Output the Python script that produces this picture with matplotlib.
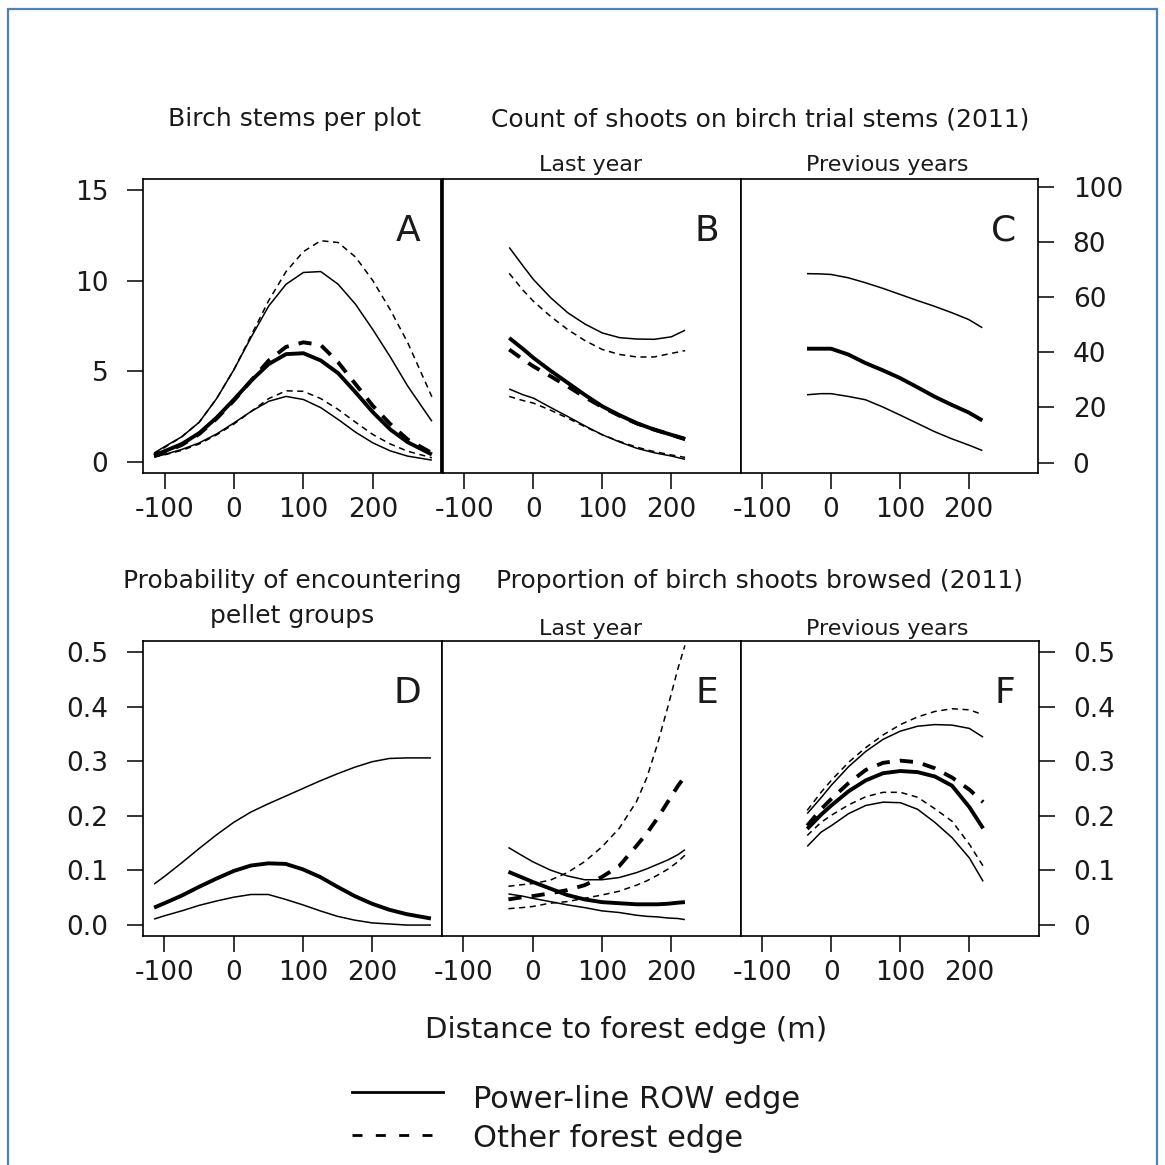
import matplotlib
matplotlib.use("Agg")
import matplotlib.pyplot as plt
from matplotlib.lines import Line2D
from matplotlib.patches import Rectangle

# ---- data ----
# panel A: birch stems per plot
a_x = [-115, -100, -75, -50, -25, 0, 25, 50, 75, 100, 125, 150, 175, 200, 225, 250, 285]
a_pow_hi = [0.5, 0.85, 1.4, 2.2, 3.5, 5.1, 6.9, 8.6, 9.8, 10.45, 10.5, 9.8, 8.7, 7.3, 5.8, 4.2, 2.25]
a_pow_mid = [0.37, 0.6, 1.0, 1.6, 2.45, 3.45, 4.5, 5.4, 5.95, 6.0, 5.6, 4.9, 3.85, 2.75, 1.8, 1.1, 0.42]
a_pow_lo = [0.29, 0.42, 0.7, 1.06, 1.55, 2.16, 2.8, 3.35, 3.62, 3.45, 3.0, 2.35, 1.65, 1.06, 0.62, 0.33, 0.11]
a_oth_hi = [0.45, 0.8, 1.4, 2.2, 3.5, 5.1, 7.0, 8.9, 10.5, 11.6, 12.2, 12.1, 11.3, 10.0, 8.4, 6.6, 3.6]
a_oth_mid = [0.33, 0.55, 0.95, 1.55, 2.4, 3.4, 4.5, 5.6, 6.35, 6.6, 6.45, 5.5, 4.3, 3.1, 2.1, 1.25, 0.5]
a_oth_lo = [0.28, 0.4, 0.65, 1.0, 1.5, 2.1, 2.8, 3.5, 3.93, 3.9, 3.5, 2.9, 2.2, 1.52, 1.0, 0.6, 0.24]

# panel B: shoots, last year
bc_x = [-35, -15, 0, 25, 50, 75, 100, 125, 150, 175, 200, 220]
b_pow_hi = [78, 71.3, 66.4, 59.8, 54.3, 50.2, 47.0, 45.3, 44.8, 44.7, 45.6, 48.0]
b_pow_mid = [45.2, 41.2, 38.0, 33.3, 28.9, 24.5, 20.4, 17.2, 14.3, 12.0, 10.1, 8.5]
b_pow_lo = [26.7, 24.6, 23.4, 20.0, 16.7, 13.3, 10.1, 7.5, 5.2, 3.6, 2.4, 1.2]
b_oth_hi = [68.6, 62.5, 58.5, 53.0, 48.2, 44.2, 41.0, 39.2, 38.3, 38.3, 39.6, 40.6]
b_oth_mid = [41.0, 37.4, 34.9, 31.3, 27.6, 23.7, 20.1, 17.0, 14.2, 12.0, 10.1, 8.6]
b_oth_lo = [24.0, 22.5, 21.6, 19.0, 16.1, 13.0, 10.1, 7.7, 5.6, 4.0, 2.8, 1.9]

# panel C: shoots, previous years
c_pow_hi = [68.5, 68.4, 68.2, 67.0, 65.2, 63.2, 61.0, 58.8, 56.7, 54.4, 51.9, 48.9]
c_pow_mid = [41.3, 41.3, 41.3, 39.2, 36.1, 33.5, 30.7, 27.4, 24.0, 21.0, 18.2, 15.3]
c_pow_lo = [24.6, 25.0, 25.0, 24.0, 22.8, 20.2, 17.3, 14.3, 11.3, 8.7, 6.4, 4.4]

# panel D: probability of pellet groups
d_x = [-115, -100, -75, -50, -25, 0, 25, 50, 75, 100, 125, 150, 175, 200, 225, 250, 285]
d_pow_hi = [0.075, 0.089, 0.114, 0.140, 0.165, 0.188, 0.207, 0.222, 0.236, 0.250, 0.264, 0.277,
            0.289, 0.299, 0.305, 0.306, 0.306]
d_pow_mid = [0.032, 0.040, 0.054, 0.070, 0.085, 0.099, 0.109, 0.113, 0.112, 0.102, 0.088, 0.070,
             0.053, 0.039, 0.028, 0.020, 0.012]
d_pow_lo = [0.011, 0.017, 0.026, 0.036, 0.044, 0.051, 0.056, 0.056, 0.047, 0.037, 0.026, 0.016,
            0.009, 0.004, 0.002, 0.0, 0.0]

# panel E: browsed, last year
e_x = [-35, -15, 0, 25, 50, 75, 100, 125, 150, 165, 180, 195, 210, 220]
e_pow_hi = [0.142, 0.127, 0.116, 0.101, 0.090, 0.083, 0.083, 0.087, 0.096, 0.103, 0.111, 0.119, 0.129, 0.138]
e_pow_mid = [0.0975, 0.087, 0.079, 0.067, 0.055, 0.047, 0.042, 0.040, 0.038, 0.038, 0.038, 0.039, 0.041, 0.042]
e_pow_lo = [0.057, 0.053, 0.049, 0.043, 0.037, 0.032, 0.026, 0.023, 0.018, 0.016, 0.015, 0.013, 0.012, 0.010]
e_oth_hi = [0.071, 0.074, 0.076, 0.082, 0.096, 0.116, 0.143, 0.177, 0.226, 0.270, 0.330, 0.398, 0.470, 0.512]
e_oth_mid = [0.047, 0.051, 0.053, 0.058, 0.064, 0.073, 0.088, 0.108, 0.145, 0.168, 0.195, 0.225, 0.255, 0.272]
e_oth_lo = [0.030, 0.032, 0.034, 0.040, 0.043, 0.049, 0.055, 0.062, 0.073, 0.081, 0.091, 0.102, 0.116, 0.128]

# panel F: browsed, previous years
f_pow_hi = [0.204, 0.233, 0.256, 0.290, 0.318, 0.340, 0.355, 0.364, 0.367, 0.366, 0.360, 0.344]
f_pow_mid = [0.176, 0.202, 0.219, 0.245, 0.265, 0.278, 0.282, 0.280, 0.272, 0.255, 0.216, 0.177]
f_pow_lo = [0.144, 0.170, 0.182, 0.204, 0.219, 0.225, 0.224, 0.212, 0.188, 0.160, 0.123, 0.080]
f_oth_hi = [0.210, 0.243, 0.265, 0.298, 0.325, 0.348, 0.367, 0.381, 0.391, 0.396, 0.394, 0.385]
f_oth_mid = [0.182, 0.212, 0.231, 0.260, 0.284, 0.297, 0.301, 0.298, 0.287, 0.270, 0.248, 0.225]
f_oth_lo = [0.164, 0.188, 0.201, 0.220, 0.235, 0.243, 0.243, 0.234, 0.213, 0.190, 0.148, 0.108]

x_ticks = [-100, 0, 100, 200]
x_ticklabels = ["-100", "0", "100", "200"]
a_yticks = [0, 5, 10, 15]
a_yticklabels = ["0", "5", "10", "15"]
c_yticks = [0, 20, 40, 60, 80, 100]
c_yticklabels = ["0", "20", "40", "60", "80", "100"]
p_yticks = [0, 0.1, 0.2, 0.3, 0.4, 0.5]
d_yticklabels = ["0.0", "0.1", "0.2", "0.3", "0.4", "0.5"]
f_yticklabels = ["0", "0.1", "0.2", "0.3", "0.4", "0.5"]

# ---- figure ----
W = H = 1165
fig = plt.figure(figsize=(W / 100, H / 100), dpi=100)
TXT = "#1a1a1a"

THIN = 1.1
THICK = 2.8
THIN_DASH = (0, (4, 3))
THICK_DASH = (0, (3.4, 2.6))


def px_axes(left, top, right, bottom):
    return fig.add_axes([left / W, 1 - bottom / H, (right - left) / W, (bottom - top) / H])


def fig_text(x, y, s, size, **kw):
    fig.text(x / W, 1 - y / H, s, fontsize=size, color=TXT, **kw)


def style_axes(ax, ylim, side, yticks=None, yticklabels=None):
    ax.set_xlim(-131, 301)
    ax.set_ylim(*ylim)
    for sp in ax.spines.values():
        sp.set_linewidth(1.2)
    ax.set_xticks(x_ticks)
    ax.set_xticklabels(x_ticklabels)
    ax.tick_params(axis="x", direction="out", length=11.5, width=1.1, pad=6,
                   labelsize=19, labelcolor=TXT)
    if side == "none":
        ax.set_yticks([])
    else:
        ax.set_yticks(yticks)
        ax.set_yticklabels(yticklabels)
        ax.tick_params(axis="y", direction="out", length=11.5, width=1.1, pad=13.5,
                       labelsize=19, labelcolor=TXT,
                       left=(side == "left"), labelleft=(side == "left"),
                       right=(side == "right"), labelright=(side == "right"))


def draw(ax, x, y, thick=False, dashed=False):
    lw = THICK if thick else THIN
    ls = "-"
    if dashed:
        ls = THICK_DASH if thick else THIN_DASH
    ax.plot(x, y, color="black", lw=lw, linestyle=ls, solid_capstyle="butt")


axA = px_axes(143, 179, 443, 473)
axB = px_axes(443, 179, 741, 473)
axC = px_axes(741, 179, 1038, 473)
axD = px_axes(143, 641, 442, 936)
axE = px_axes(442, 641, 741, 936)
axF = px_axes(741, 641, 1039, 936)

style_axes(axA, (-0.6, 15.6), "left", a_yticks, a_yticklabels)
style_axes(axB, (-3.75, 102.8), "none")
style_axes(axC, (-3.75, 102.8), "right", c_yticks, c_yticklabels)
style_axes(axD, (-0.02, 0.52), "left", p_yticks, d_yticklabels)
style_axes(axE, (-0.02, 0.52), "none")
style_axes(axF, (-0.02, 0.52), "right", p_yticks, f_yticklabels)
axA.spines["right"].set_linewidth(4.2)
axA.spines["right"].set_capstyle("butt")
axA.spines["right"].set_zorder(5)

# A
draw(axA, a_x, a_oth_hi, dashed=True)
draw(axA, a_x, a_oth_lo, dashed=True)
draw(axA, a_x, a_oth_mid, thick=True, dashed=True)
draw(axA, a_x, a_pow_hi)
draw(axA, a_x, a_pow_lo)
draw(axA, a_x, a_pow_mid, thick=True)
# B
draw(axB, bc_x, b_oth_hi, dashed=True)
draw(axB, bc_x, b_oth_lo, dashed=True)
draw(axB, bc_x, b_oth_mid, thick=True, dashed=True)
draw(axB, bc_x, b_pow_hi)
draw(axB, bc_x, b_pow_lo)
draw(axB, bc_x, b_pow_mid, thick=True)
# C
draw(axC, bc_x, c_pow_hi)
draw(axC, bc_x, c_pow_lo)
draw(axC, bc_x, c_pow_mid, thick=True)
# D
draw(axD, d_x, d_pow_hi)
draw(axD, d_x, d_pow_lo)
draw(axD, d_x, d_pow_mid, thick=True)
# E
draw(axE, e_x, e_oth_hi, dashed=True)
draw(axE, e_x, e_oth_lo, dashed=True)
draw(axE, e_x, e_oth_mid, thick=True, dashed=True)
draw(axE, e_x, e_pow_hi)
draw(axE, e_x, e_pow_lo)
draw(axE, e_x, e_pow_mid, thick=True)
# F
draw(axF, bc_x, f_oth_hi, dashed=True)
draw(axF, bc_x, f_oth_lo, dashed=True)
draw(axF, bc_x, f_oth_mid, thick=True, dashed=True)
draw(axF, bc_x, f_pow_hi)
draw(axF, bc_x, f_pow_lo)
draw(axF, bc_x, f_pow_mid, thick=True)

# panel letters
for ax, letter in [(axA, "A"), (axB, "B"), (axC, "C"), (axD, "D"), (axE, "E"), (axF, "F")]:
    ax.text(0.885, 0.79, letter, transform=ax.transAxes, ha="center", va="baseline",
            fontsize=26, color=TXT)

# titles
fig_text(295, 126, "Birch stems per plot", 18, ha="center", va="baseline")
fig_text(760, 126, "Count of shoots on birch trial stems (2011)", 18, ha="center", va="baseline")
fig_text(591, 171, "Last year", 16, ha="center", va="baseline")
fig_text(887, 171, "Previous years", 16, ha="center", va="baseline")
fig_text(292, 588, "Probability of encountering", 18, ha="center", va="baseline")
fig_text(292, 623, "pellet groups", 18, ha="center", va="baseline")
fig_text(759, 588, "Proportion of birch shoots browsed (2011)", 18, ha="center", va="baseline")
fig_text(591, 635, "Last year", 16, ha="center", va="baseline")
fig_text(887, 635, "Previous years", 16, ha="center", va="baseline")
fig_text(626, 1038, "Distance to forest edge (m)", 21, ha="center", va="baseline")

# legend
fig.add_artist(Line2D([352 / W, 443 / W], [1 - 1092 / H, 1 - 1092 / H], color="black", lw=2.0))
fig.add_artist(Line2D([352 / W, 443 / W], [1 - 1135 / H, 1 - 1135 / H], color="black", lw=2.0,
                      linestyle=(0, (3.6, 4.8))))
fig_text(473, 1108, "Power-line ROW edge", 22, ha="left", va="baseline")
fig_text(473, 1147, "Other forest edge", 22, ha="left", va="baseline")

# outer frame
fig.add_artist(Rectangle((8 / W, -0.05), (1157 - 8) / W, 1 - 9 / H + 0.05, transform=fig.transFigure,
                         fill=False, edgecolor="#4f81bd", lw=1.6))

fig.savefig("out.png", dpi=100)
